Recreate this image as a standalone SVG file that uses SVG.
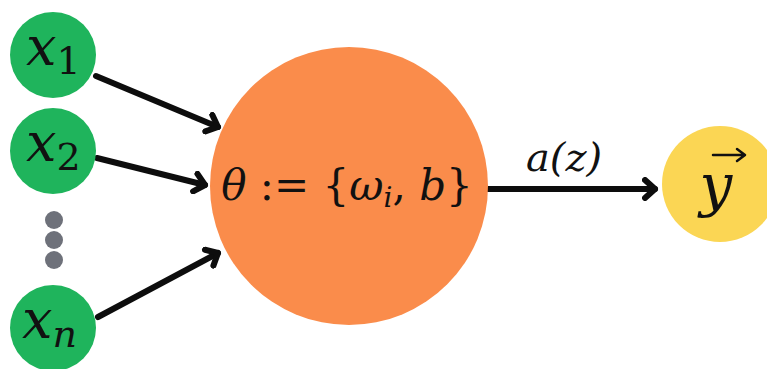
<svg xmlns="http://www.w3.org/2000/svg" width="767" height="369" viewBox="0 0 767 369">
<defs>
<style>
.in{fill:#1fb45c}
.dot{fill:#6e717a}
.lbl{fill:#111;font-family:"DejaVu Serif",serif}
.it{font-style:italic}
.edge{stroke:#0d0d0d;stroke-width:6;fill:none;stroke-linecap:round}
</style>
<marker id="ah" viewBox="-13 -12 17 24" markerWidth="17" markerHeight="24" refX="0" refY="0" orient="auto" markerUnits="userSpaceOnUse">
<path d="M-10,-9 L0,0 L-10,9" fill="none" stroke="#0d0d0d" stroke-width="6" stroke-linecap="round" stroke-linejoin="round"/>
</marker>
</defs>
<rect width="767" height="369" fill="#ffffff"/>
<g id="edges">
<line class="edge" x1="96" y1="76" x2="218" y2="127" marker-end="url(#ah)"/>
<line class="edge" x1="97" y1="158" x2="205" y2="185" marker-end="url(#ah)"/>
<line class="edge" x1="98" y1="317" x2="218" y2="253" marker-end="url(#ah)"/>
<line class="edge" x1="488" y1="189" x2="655" y2="189" marker-end="url(#ah)"/>
<text class="lbl it" x="564" y="171" font-size="40" text-anchor="middle">a(z)</text>
</g>
<g id="x1">
<circle class="in" cx="53" cy="55" r="43"/>
<text class="lbl" x="26" y="65" font-size="54"><tspan class="it">x</tspan><tspan font-size="38" dy="9">1</tspan></text>
</g>
<g id="x2">
<circle class="in" cx="53" cy="151" r="43"/>
<text class="lbl" x="26" y="161" font-size="54"><tspan class="it">x</tspan><tspan font-size="38" dy="9">2</tspan></text>
</g>
<g id="dots">
<circle class="dot" cx="54" cy="220" r="9"/>
<circle class="dot" cx="54" cy="240" r="9"/>
<circle class="dot" cx="54" cy="260" r="9"/>
</g>
<g id="xn">
<circle class="in" cx="53" cy="328" r="43"/>
<text class="lbl" x="22" y="338" font-size="54"><tspan class="it">x</tspan><tspan class="it" font-size="38" dy="9">n</tspan></text>
</g>
<g id="neuron">
<circle cx="349" cy="186" r="139" fill="#fa8c4b"/>
<text class="lbl" x="347" y="200" font-size="42" text-anchor="middle"><tspan class="it">θ</tspan> := {<tspan class="it">ω</tspan><tspan class="it" font-size="28" dy="7">i</tspan><tspan dy="-7">, </tspan><tspan class="it">b</tspan>}</text>
</g>
<g id="y">
<circle cx="720" cy="184" r="58" fill="#fbd654"/>
<text class="lbl it" x="716" y="205" font-size="58" text-anchor="middle">y</text>
<path d="M713,155 L744,155 M737,149 L745,155 L737,161" fill="none" stroke="#111" stroke-width="2.5" stroke-linecap="round" stroke-linejoin="round"/>
</g>
</svg>
